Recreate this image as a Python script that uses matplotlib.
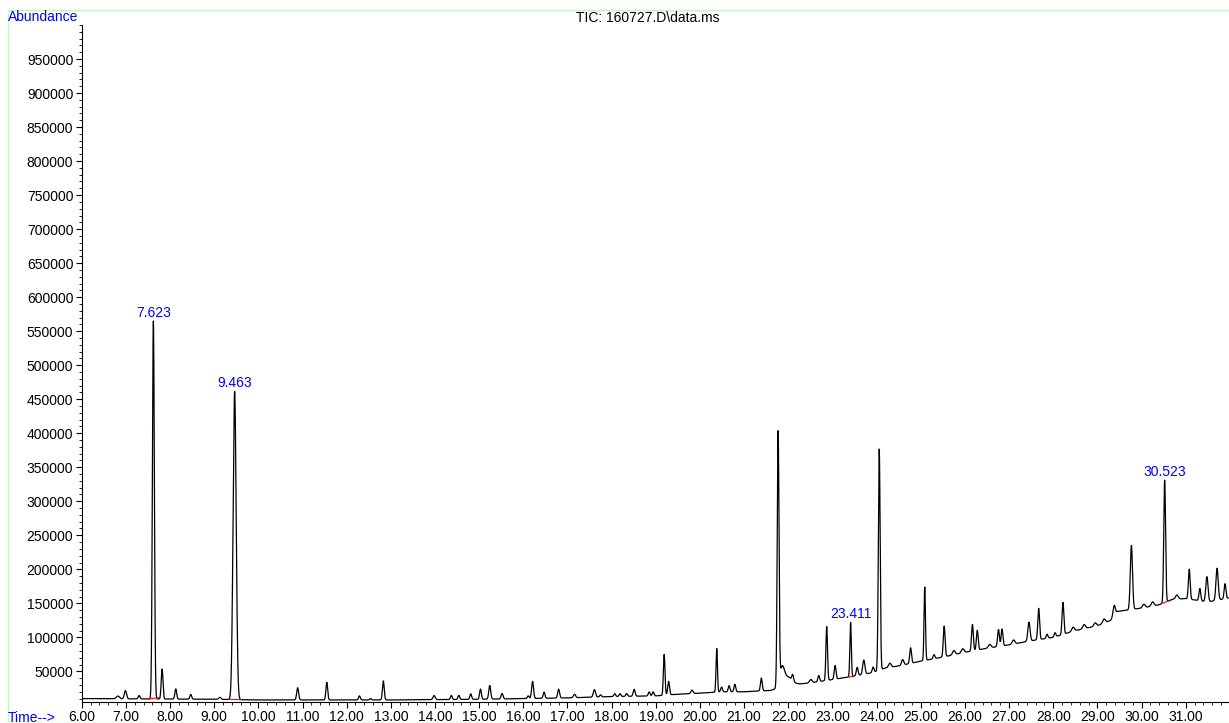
import numpy as np
import matplotlib
matplotlib.use("Agg")
import matplotlib.pyplot as plt
from matplotlib.ticker import MultipleLocator, FixedLocator
from matplotlib.patches import Rectangle

# ---------------- data ----------------
title = "TIC: 160727.D\\data.ms"

# baseline (drift) knots: retention time (min), abundance
baseline_rt = [6.0, 7.5, 9.0, 10.0, 12.0, 13.0, 14.0, 15.0, 16.0, 17.0, 18.0, 19.0,
               19.4, 20.0, 20.5, 21.0, 21.6, 21.75, 22.0, 22.5, 23.0, 23.4, 23.9,
               24.2, 24.5, 25.0, 25.5, 26.0, 26.5, 27.0, 27.5, 28.0, 28.5, 29.0,
               29.3, 29.45, 30.0, 30.4, 30.7, 31.0, 31.5, 31.98]
baseline_val = [10000, 9500, 9000, 8000, 8000, 8000, 8500, 9000, 10000, 11000, 13000, 14000,
                16000, 18000, 20000, 20000, 22000, 25000, 30000, 33000, 38000, 42000, 48000,
                55000, 58000, 65000, 71000, 78000, 84000, 89000, 95000, 100000, 110000, 117000,
                125000, 138000, 143000, 148000, 156000, 157000, 152000, 158000]

# peaks: retention time (min), height above baseline, width (sigma, min)
peak_rt = [6.82, 6.99, 7.30, 7.623, 7.82, 8.13, 8.47, 9.13, 9.463,
           10.89, 11.55, 12.29, 12.54, 12.83,
           13.98, 14.37, 14.54, 14.81, 15.03, 15.24, 15.52, 16.11, 16.21, 16.47,
           16.80, 17.16, 17.61, 17.75, 18.07, 18.19, 18.34, 18.51, 18.85, 18.94,
           19.19, 19.29, 19.82, 20.38, 20.49, 20.66, 20.79, 21.39,
           21.77, 21.86, 21.98, 22.10, 22.51, 22.69, 22.87, 23.06, 23.411, 23.56,
           23.71, 23.92, 24.06, 24.30, 24.59, 24.77, 25.09, 25.30, 25.53,
           25.75, 25.95, 26.17, 26.28, 26.56, 26.76, 26.84, 27.10, 27.45, 27.67,
           27.86, 28.04, 28.22, 28.45, 28.70, 28.95, 29.15, 29.38, 29.77,
           30.05, 30.25, 30.523, 30.80, 31.08, 31.32, 31.48, 31.71, 31.89]
peak_height = [4000, 12000, 5000, 556000, 44000, 15000, 7000, 3000, 453000,
               18000, 26000, 6000, 2000, 28000,
               6000, 6000, 6000, 8000, 15000, 20000, 8000, 4000, 25000, 9000,
               13000, 5000, 11000, 3000, 4000, 4000, 4000, 10000, 6000, 6000,
               60000, 20000, 5000, 64000, 7000, 9000, 11000, 19000,
               372000, 25000, 12000, 9000, 5000, 9000, 79000, 20000, 80000, 12000,
               21000, 8000, 325000, 6000, 8000, 23000, 108000, 6000, 45000,
               6000, 6000, 39000, 29000, 5000, 25000, 25000, 6000, 28000, 46000,
               6000, 6000, 47000, 6000, 6000, 5000, 6000, 15000, 94000,
               5000, 6000, 180000, 6000, 44000, 18000, 37000, 47000, 22000]
peak_width = [0.035, 0.025, 0.02, 0.022, 0.02, 0.02, 0.02, 0.025, 0.035,
              0.022, 0.02, 0.02, 0.02, 0.02,
              0.025, 0.02, 0.02, 0.02, 0.02, 0.022, 0.022, 0.02, 0.022, 0.02,
              0.022, 0.025, 0.025, 0.02, 0.02, 0.02, 0.02, 0.022, 0.02, 0.02,
              0.018, 0.02, 0.025, 0.016, 0.02, 0.02, 0.02, 0.02,
              0.02, 0.05, 0.1, 0.02, 0.03, 0.02, 0.018, 0.02, 0.016, 0.02,
              0.025, 0.02, 0.02, 0.03, 0.025, 0.02, 0.016, 0.02, 0.02,
              0.03, 0.03, 0.02, 0.02, 0.03, 0.02, 0.02, 0.03, 0.025, 0.02,
              0.02, 0.02, 0.02, 0.03, 0.03, 0.03, 0.03, 0.025, 0.025,
              0.03, 0.03, 0.02, 0.03, 0.02, 0.02, 0.025, 0.025, 0.02]

# annotated (integrated) peaks and their red integration baselines
label_rt = [7.623, 9.463, 23.411, 30.523]
label_text = ["7.623", "9.463", "23.411", "30.523"]
integ_start = [7.50, 9.33, 23.33, 30.45]
integ_end = [7.77, 9.62, 23.47, 30.62]

x_major = 1.0
x_minor = 0.2
y_major = 50000
y_minor = 10000
x_range = (6.0, 31.98)
y_range = (5000, 1000000)

# ---------------- build trace ----------------
t = np.arange(x_range[0], x_range[1] + 0.001, 0.002)
signal = np.interp(t, baseline_rt, baseline_val).astype(float)
for rt, h, w in zip(peak_rt, peak_height, peak_width):
    signal += h * np.exp(-0.5 * ((t - rt) / w) ** 2)

# ---------------- figure ----------------
W, H = 1229, 723
fig = plt.figure(figsize=(W / 100, H / 100), dpi=100)
plt.rcParams['font.family'] = ['Liberation Sans', 'DejaVu Sans']

# light green outer border
fig.patches.append(Rectangle((7.5 / W, 0), 1.0, 1 - 9.5 / H, transform=fig.transFigure,
                             fill=False, edgecolor='#c8f5c8', linewidth=1.0))

ax = fig.add_axes([81.7 / W, 1 - 702 / H, (W - 81.7) / W, (702 - 25) / H])
ax.plot(t, signal, color='black', linewidth=0.9)

for s, e in zip(integ_start, integ_end):
    ys = np.interp(s, t, signal)
    ye = np.interp(e, t, signal)
    ax.plot([s, e], [ys, ye], color='red', linewidth=0.8)

for rt, txt in zip(label_rt, label_text):
    m = (t > rt - 0.05) & (t < rt + 0.05)
    top = signal[m].max()
    ax.annotate(txt, xy=(rt, top), xytext=(0, 1), textcoords='offset points',
                ha='center', va='bottom', color='#0000ff', fontsize=10)

ax.set_xlim(*x_range)
ax.set_ylim(*y_range)
ax.spines['top'].set_visible(False)
ax.spines['right'].set_visible(False)
ax.spines['left'].set_linewidth(0.8)
ax.spines['bottom'].set_linewidth(0.8)

ax.xaxis.set_major_locator(MultipleLocator(x_major))
ax.xaxis.set_minor_locator(MultipleLocator(x_minor))
ax.yaxis.set_major_locator(FixedLocator(np.arange(50000, 1000000, y_major)))
ax.yaxis.set_minor_locator(MultipleLocator(y_minor))
ax.xaxis.set_major_formatter(matplotlib.ticker.FuncFormatter(lambda v, p: f"{v:.2f}"))
ax.yaxis.set_major_formatter(matplotlib.ticker.FuncFormatter(lambda v, p: f"{int(round(v))}"))
ax.tick_params(axis='both', which='major', labelsize=10, length=4, width=0.8, pad=2)
ax.tick_params(axis='both', which='minor', length=2.5, width=0.6)

fig.text(8 / W, 1 - 17 / H, "Abundance", color='#0000ff', fontsize=10, ha='left', va='center')
fig.text(8 / W, 1 - 718 / H, "Time-->", color='#0000ff', fontsize=10, ha='left', va='center')
fig.text(648 / W, 1 - 18 / H, title, color='black', fontsize=10, ha='center', va='center')

fig.savefig("out.png", dpi=100)
